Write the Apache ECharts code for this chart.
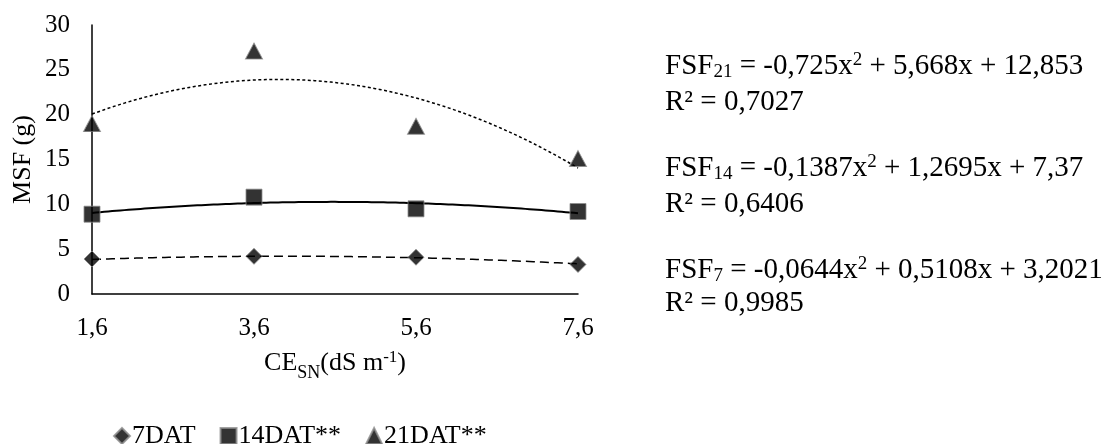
<!DOCTYPE html>
<html>
<head>
<meta charset="utf-8">
<script src="https://cdn.jsdelivr.net/npm/echarts@6/dist/echarts.min.js"></script>
<style>
  html, body { margin: 0; padding: 0; background: #fff; }
  #chart { width: 1111px; height: 444px; }
</style>
</head>
<body>
<div id="chart"></div>
<script>
// Electrical conductivity levels of the nutrient solution (dS m-1)
const ceLevels = [1.6, 3.6, 5.6, 7.6];

// Fresh shoot mass (g) at each sampling date
const dat7 = [3.9, 4.2, 4.1, 3.3];
const dat14 = [8.9, 10.8, 9.5, 9.2];
const dat21 = [19.0, 27.1, 18.7, 15.1];

// Quadratic fits: [a, b, c] for a*x^2 + b*x + c, and their R²
const fit7 = [-0.0644, 0.5108, 3.2021];
const fit14 = [-0.1387, 1.2695, 7.37];
const fit21 = [-0.725, 5.668, 12.853];
const r2Values = [0.9985, 0.6406, 0.7027];

const seriesNames = ['7DAT', '14DAT**', '21DAT**'];

const FONT = 'Liberation Serif, "Times New Roman", serif';

function dec(v) { return String(v).replace('.', ','); }

function points(values) {
  return ceLevels.map((x, i) => [x, values[i]]);
}

// Fitted curve sampled along the CE range
function curve(coef) {
  const out = [];
  const steps = 120;
  const x0 = ceLevels[0], x1 = ceLevels[ceLevels.length - 1];
  for (let i = 0; i <= steps; i++) {
    const x = x0 + (x1 - x0) * i / steps;
    out.push([x, coef[0] * x * x + coef[1] * x + coef[2]]);
  }
  return out;
}

function equationRich(sub, coef) {
  const sign = v => (v < 0 ? ' - ' : ' + ');
  return '{t|FSF}{sub|' + sub + '}{t| = ' + dec(coef[0]) + 'x}{sup|2}{t|' +
    sign(coef[1]) + dec(Math.abs(coef[1])) + 'x' + sign(coef[2]) + dec(Math.abs(coef[2])) + '}';
}

const eqRich = {
  t: { fontFamily: FONT, fontSize: 29, color: '#000', lineHeight: 31 },
  sub: { fontFamily: FONT, fontSize: 19, color: '#000', lineHeight: 19, verticalAlign: 'bottom' },
  sup: { fontFamily: FONT, fontSize: 19, color: '#000', lineHeight: 19, verticalAlign: 'top' }
};

function eqText(y, text) {
  return {
    type: 'text', x: 665, y: y,
    style: { text: text, rich: eqRich, verticalAlign: 'middle', align: 'left', fill: '#000' }
  };
}

const markerStyle = { color: '#000', borderColor: '#8c8c8c', borderWidth: 1 };

const chart = echarts.init(document.getElementById('chart'), null, { renderer: 'canvas' });

chart.setOption({
  backgroundColor: '#fff',
  animation: false,
  textStyle: { fontFamily: FONT, color: '#000' },
  grid: { left: 92, top: 25, width: 486, height: 269, containLabel: false },
  xAxis: {
    type: 'value',
    min: ceLevels[0],
    max: ceLevels[ceLevels.length - 1],
    name: '{a|CE}{s|SN}{a|(dS m}{p|-1}{a|)}',
    nameLocation: 'middle',
    nameGap: 55,
    nameTextStyle: {
      rich: {
        a: { fontFamily: FONT, fontSize: 26, color: '#000', lineHeight: 28 },
        s: { fontFamily: FONT, fontSize: 18, color: '#000', lineHeight: 18, verticalAlign: 'bottom', padding: [0, 0, -5, 0] },
        p: { fontFamily: FONT, fontSize: 17, color: '#000', lineHeight: 17, verticalAlign: 'top' }
      }
    },
    axisLine: { lineStyle: { color: '#000', width: 1.5 } },
    axisTick: { show: false },
    splitLine: { show: false },
    axisLabel: {
      customValues: ceLevels,
      formatter: v => dec(v.toFixed(1)),
      fontFamily: FONT, fontSize: 25, color: '#000', margin: 22
    }
  },
  yAxis: {
    type: 'value',
    min: 0, max: 30, interval: 5,
    name: 'MSF (g)',
    nameLocation: 'middle',
    nameGap: 56,
    nameTextStyle: { fontFamily: FONT, fontSize: 26, color: '#000' },
    axisLine: { show: true, lineStyle: { color: '#000', width: 1.5 } },
    axisTick: { show: false },
    splitLine: { show: false },
    axisLabel: { fontFamily: FONT, fontSize: 25, color: '#000', margin: 22 }
  },
  legend: {
    data: seriesNames,
    left: 108, top: 418,
    itemWidth: 16, itemHeight: 16, itemGap: 24,
    textStyle: { fontFamily: FONT, fontSize: 26, color: '#000', padding: [0, 0, 0, -3] }
  },
  graphic: [
    eqText(66, equationRich('21', fit21)),
    eqText(102, '{t|R² = ' + dec(r2Values[2]) + '}'),
    eqText(168, equationRich('14', fit14)),
    eqText(204, '{t|R² = ' + dec(r2Values[1]) + '}'),
    eqText(270, equationRich('7', fit7)),
    eqText(303, '{t|R² = ' + dec(r2Values[0]) + '}')
  ],
  series: [
    {
      name: 'fit7', type: 'line', data: curve(fit7), showSymbol: false, smooth: false, clip: false,
      lineStyle: { color: '#000', width: 1.5, type: [9, 5] }, z: 2, silent: true
    },
    {
      name: 'fit14', type: 'line', data: curve(fit14), showSymbol: false, smooth: false, clip: false,
      lineStyle: { color: '#000', width: 2, type: 'solid' }, z: 2, silent: true
    },
    {
      name: 'fit21', type: 'line', data: curve(fit21), showSymbol: false, smooth: false, clip: false,
      lineStyle: { color: '#000', width: 1.5, type: [3, 2.5] }, z: 2, silent: true
    },
    {
      name: seriesNames[0], type: 'scatter', data: points(dat7), symbol: 'diamond', symbolSize: 16,
      itemStyle: markerStyle, z: 4, clip: false
    },
    {
      name: seriesNames[1], type: 'scatter', data: points(dat14), symbol: 'rect', symbolSize: 16,
      itemStyle: markerStyle, z: 4, clip: false
    },
    {
      name: seriesNames[2], type: 'scatter', data: points(dat21), symbol: 'triangle', symbolSize: [17, 16],
      itemStyle: markerStyle, z: 4, clip: false
    }
  ]
});
</script>
</body>
</html>
